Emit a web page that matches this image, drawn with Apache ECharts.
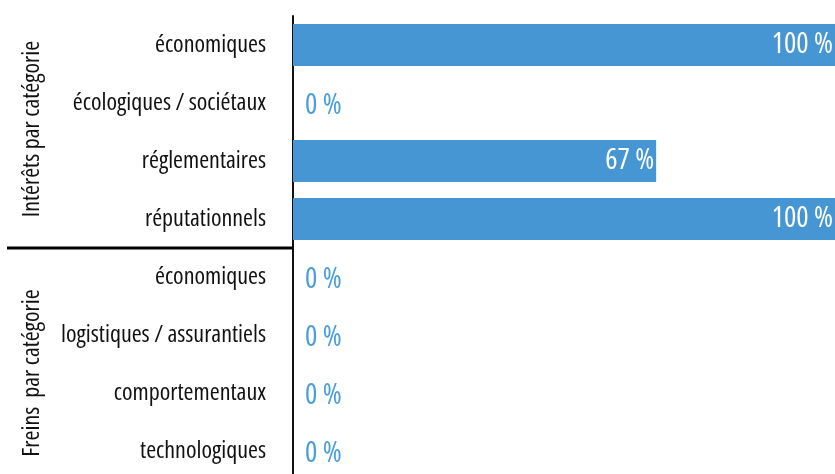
<!DOCTYPE html>
<html>
<head>
<meta charset="utf-8">
<style>
  html, body { margin: 0; padding: 0; background: #fff; }
  #chart { width: 835px; height: 474px; }
</style>
<script src="https://cdn.jsdelivr.net/npm/echarts@6/dist/echarts.min.js"></script>
</head>
<body>
<div id="chart"></div>
<script>
// Categories, top to bottom: four "intérêts", then four "freins"
const categories = [
  'économiques',
  'écologiques / sociétaux',
  'réglementaires',
  'réputationnels',
  'économiques ',
  'logistiques / assurantiels',
  'comportementaux',
  'technologiques'
];
// Share of respondents (%) per category
const values = [100, 0, 67, 100, 0, 0, 0, 0];
// Group titles shown along the left edge
const groupTitles = ['Intérêts par catégorie', 'Freins  par catégorie'];

const FONT = '"Open Sans", "Roboto Condensed", sans-serif';
const STRETCH = 'normal condensed';   // weight + stretch, goes into the canvas font shorthand
const BAR = '#4596d3';
const LABEL_BLUE = '#4a9ee0';
const INK = '#111111';

const chart = echarts.init(document.getElementById('chart'), null, { renderer: 'canvas' });

const seriesData = values.map(v => ({
  value: v,
  label: v > 0
    ? { position: 'insideRight', color: '#ffffff', distance: 2 }
    : { position: 'right', color: LABEL_BLUE, distance: 12, offset: [0, 3] }
}));

chart.setOption({
  animation: false,
  grid: {
    left: 293, right: 0, top: 16, height: 464,
    containLabel: false, outerBoundsMode: 'none'
  },
  xAxis: {
    type: 'value', min: 0, max: 100,
    show: false
  },
  yAxis: {
    type: 'category',
    data: categories,
    inverse: true,
    axisLine: { show: true, lineStyle: { color: INK, width: 2 } },
    axisTick: { show: false },
    splitLine: { show: false },
    axisLabel: {
      margin: 27,
      color: INK,
      fontFamily: FONT,
      fontWeight: STRETCH,
      fontSize: 24,
      formatter: s => s.trim()
    }
  },
  series: [{
    type: 'bar',
    data: seriesData,
    barWidth: 42,
    itemStyle: { color: BAR },
    label: {
      show: true,
      fontFamily: FONT,
      fontWeight: STRETCH,
      fontSize: 29,
      formatter: p => p.value + ' %'
    }
  }],
  graphic: [
    {
      type: 'text',
      x: 32, y: 129,
      rotation: Math.PI / 2,
      style: {
        text: groupTitles[0],
        fontFamily: FONT, fontWeight: STRETCH, fontSize: 24, fill: INK,
        align: 'center', verticalAlign: 'middle'
      }
    },
    {
      type: 'line',
      shape: { x1: 7, y1: 248, x2: 292, y2: 248 },
      style: { stroke: '#000', lineWidth: 3 }
    },
    {
      type: 'text',
      x: 32, y: 373,
      rotation: Math.PI / 2,
      style: {
        text: groupTitles[1],
        fontFamily: FONT, fontWeight: STRETCH, fontSize: 24, fill: INK,
        align: 'center', verticalAlign: 'middle'
      }
    }
  ]
});
</script>
</body>
</html>
